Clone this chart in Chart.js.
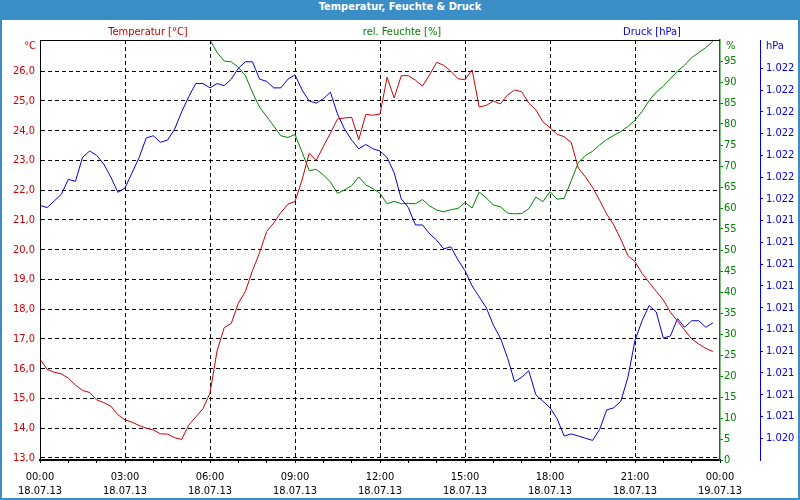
<!DOCTYPE html>
<html>
<head>
<meta charset="utf-8">
<script src="https://cdn.jsdelivr.net/npm/chart.js@4/dist/chart.umd.min.js"></script>
<style>
  body { margin: 0; background: #fff; }
  #wrap { position: relative; width: 800px; height: 500px; background: #fff; overflow: hidden; }
  #bar {
    position: absolute; left: 0; top: 0; width: 800px; height: 20px;
    background: #3c8ec6; color: #fff; text-align: center; line-height: 20px;
    font: bold 11px "DejaVu Sans Condensed", "Liberation Sans", sans-serif;
  }
  #frame {
    position: absolute; left: 0; top: 0; width: 800px; height: 500px; box-sizing: border-box;
    border: 2px solid #3c8ec6; border-top: none; pointer-events: none;
  }
  canvas { position: absolute; left: 0; top: 0; }
</style>
</head>
<body>
<div id="wrap">
  <canvas id="myChart" width="800" height="500"></canvas>
  <div id="bar">Temperatur, Feuchte &amp; Druck</div>
  <div id="frame"></div>
</div>
<script>
// messzeitpunkte 18.07.13
const times = [
  "00:00","00:15","00:30","00:45","01:00","01:15","01:30","01:45",
  "02:00","02:15","02:30","02:45","03:00","03:15","03:30","03:45",
  "04:00","04:15","04:30","04:45","05:00","05:15","05:30","05:45",
  "06:00","06:15","06:30","06:45","07:00","07:15","07:30","07:45",
  "08:00","08:15","08:30","08:45","09:00","09:15","09:30","09:45",
  "10:00","10:15","10:30","10:45","11:00","11:15","11:30","11:45",
  "12:00","12:15","12:30","12:45","13:00","13:15","13:30","13:45",
  "14:00","14:15","14:30","14:45","15:00","15:15","15:30","15:45",
  "16:00","16:15","16:30","16:45","17:00","17:15","17:30","17:45",
  "18:00","18:15","18:30","18:45","19:00","19:15","19:30","19:45",
  "20:00","20:15","20:30","20:45","21:00","21:15","21:30","21:45",
  "22:00","22:15","22:30","22:45","23:00","23:15","23:30","23:45"
];

const temperatur = [
  16.32, 15.98, 15.88, 15.83, 15.68, 15.45, 15.27, 15.20,
  14.95, 14.86, 14.74, 14.45, 14.28, 14.20, 14.09, 14.00,
  13.94, 13.81, 13.80, 13.68, 13.62, 14.10, 14.38, 14.65,
  15.18, 16.60, 17.38, 17.52, 18.20, 18.60, 19.30, 19.90,
  20.61, 20.90, 21.25, 21.53, 21.62, 22.35, 23.24, 23.00,
  23.47, 23.92, 24.39, 24.43, 24.45, 23.70, 24.55, 24.52,
  24.56, 25.80, 25.10, 25.85, 25.85, 25.70, 25.50, 25.88,
  26.30, 26.20, 26.00, 25.75, 25.71, 26.05, 24.80, 24.85,
  25.00, 24.90, 25.20, 25.37, 25.31, 24.93, 24.70, 24.30,
  24.10, 23.88, 23.80, 23.60, 22.74, 22.45, 22.10, 21.66,
  21.20, 20.83, 20.35, 19.80, 19.60, 19.20, 18.90, 18.60,
  18.31, 17.90, 17.60, 17.30, 17.00, 16.83, 16.68, 16.58
];

const feuchte = [
  100, 100, 100, 100, 100, 100, 100, 100,
  100, 100, 100, 100, 100, 100, 100, 100,
  100, 100, 100, 100, 100, 100, 100, 100,
  100, 97.0, 95.0, 94.8, 93.5, 91.5, 87.5, 84.0,
  81.8, 79.5, 77.2, 76.8, 77.5, 73.3, 68.9, 69.2,
  67.9, 66.2, 63.5, 64.3, 65.3, 67.4, 65.5, 64.6,
  63.5, 61.0, 61.6, 61.0, 61.1, 61.0, 62.0, 60.5,
  59.5, 59.1, 59.6, 59.9, 61.3, 60.0, 63.8, 62.4,
  60.7, 60.3, 58.8, 58.6, 58.7, 59.8, 62.6, 61.5,
  63.9, 62.1, 62.3, 66.5, 70.8, 72.5, 73.5, 75.0,
  76.3, 77.3, 78.2, 79.4, 80.9, 83.0, 85.6, 87.6,
  89.0, 90.8, 92.6, 94.0, 95.8, 97.0, 98.2, 99.7
];

const druck = [
  1021.47, 1021.46, 1021.49, 1021.52, 1021.59, 1021.58, 1021.69, 1021.72,
  1021.70, 1021.66, 1021.60, 1021.53, 1021.55, 1021.62, 1021.69, 1021.78,
  1021.79, 1021.76, 1021.77, 1021.82, 1021.90, 1021.97, 1022.03, 1022.03,
  1022.01, 1022.03, 1022.02, 1022.05, 1022.10, 1022.13, 1022.13, 1022.05,
  1022.04, 1022.01, 1022.01, 1022.05, 1022.07, 1022.00, 1021.95, 1021.94,
  1021.96, 1021.99, 1021.89, 1021.82, 1021.77, 1021.73, 1021.75, 1021.73,
  1021.72, 1021.69, 1021.62, 1021.50, 1021.46, 1021.38, 1021.38, 1021.34,
  1021.31, 1021.27, 1021.28, 1021.22, 1021.17, 1021.10, 1021.05, 1021.00,
  1020.92, 1020.86, 1020.77, 1020.66, 1020.68, 1020.71, 1020.60, 1020.57,
  1020.54, 1020.49, 1020.41, 1020.42, 1020.41, 1020.40, 1020.39, 1020.44,
  1020.53, 1020.54, 1020.57, 1020.68, 1020.85, 1020.94, 1021.01, 1020.98,
  1020.86, 1020.87, 1020.95, 1020.91, 1020.94, 1020.94, 1020.91, 1020.93
];

// achsenbeschriftung
const xTickLabels = [
  ["00:00", "18.07.13"], ["03:00", "18.07.13"], ["06:00", "18.07.13"],
  ["09:00", "18.07.13"], ["12:00", "18.07.13"], ["15:00", "18.07.13"],
  ["18:00", "18.07.13"], ["21:00", "18.07.13"], ["00:00", "19.07.13"]
];
const tempTicks = [13, 14, 15, 16, 17, 18, 19, 20, 21, 22, 23, 24, 25, 26];
const feuchteTicks = [0, 5, 10, 15, 20, 25, 30, 35, 40, 45, 50, 55, 60, 65, 70, 75, 80, 85, 90, 95];
const druckTicks = [1020.4, 1020.5, 1020.6, 1020.7, 1020.8, 1020.9, 1021.0, 1021.1, 1021.2,
  1021.3, 1021.4, 1021.5, 1021.6, 1021.7, 1021.8, 1021.9, 1022.0, 1022.1];

const RED = "#cc0000";
const GREEN = "#008000";
const BLUE = "#0000dd";
const FONT_FAMILY = '"DejaVu Sans Condensed", "Liberation Sans", sans-serif';

const toHours = (s) => {
  const [h, m] = s.split(":").map(Number);
  return h + m / 60;
};
const points = (vals) => times.map((t, i) => ({ x: toHours(t), y: vals[i] }));
const setTicks = (list) => (scale) => {
  scale.ticks = list.map((v) => ({ value: v }));
};

const rahmen = {
  id: "rahmen",
  afterDraw(chart) {
    const { ctx, chartArea: a } = chart;
    ctx.save();
    ctx.strokeStyle = "#000";
    ctx.lineWidth = 1;
    ctx.beginPath();
    ctx.moveTo(a.left, a.top + 0.5);
    ctx.lineTo(a.right, a.top + 0.5);
    ctx.stroke();

    ctx.font = "11px " + FONT_FAMILY;
    ctx.textBaseline = "middle";
    ctx.textAlign = "center";
    ctx.fillStyle = RED;
    ctx.fillText("Temperatur [°C]", 148, 32);
    ctx.fillStyle = GREEN;
    ctx.fillText("rel. Feuchte [%]", 402, 32);
    ctx.fillStyle = BLUE;
    ctx.fillText("Druck [hPa]", 652, 32);

    ctx.textAlign = "right";
    ctx.fillStyle = RED;
    ctx.fillText("°C", a.left - 4, a.top + 6);
    ctx.textAlign = "left";
    ctx.fillStyle = GREEN;
    ctx.fillText("%", a.right + 6, a.top + 6);
    ctx.fillStyle = BLUE;
    ctx.fillText("hPa", a.right + 46, a.top + 6);
    ctx.restore();
  }
};

const ctx = document.getElementById("myChart").getContext("2d");
new Chart(ctx, {
  type: "line",
  data: {
    datasets: [
      {
        label: "Temperatur",
        data: points(temperatur),
        yAxisID: "yT",
        borderColor: RED,
        borderWidth: 1,
        pointRadius: 0,
        tension: 0,
        fill: false
      },
      {
        label: "rel. Feuchte",
        data: points(feuchte),
        yAxisID: "yH",
        borderColor: GREEN,
        borderWidth: 1,
        pointRadius: 0,
        tension: 0,
        fill: false,
        clip: 0
      },
      {
        label: "Druck",
        data: points(druck),
        yAxisID: "yP",
        borderColor: BLUE,
        borderWidth: 1,
        pointRadius: 0,
        tension: 0,
        fill: false
      }
    ]
  },
  options: {
    responsive: false,
    animation: false,
    layout: { padding: { top: 40, left: 0, right: 0, bottom: 0 } },
    plugins: {
      legend: { display: false },
      tooltip: { enabled: false }
    },
    scales: {
      x: {
        type: "linear",
        position: "bottom",
        min: 0,
        max: 24,
        afterBuildTicks: setTicks(Array.from({ length: 25 }, (_, h) => h)),
        afterFit: (s) => { s.height = 40; },
        ticks: {
          autoSkip: false,
          maxRotation: 0,
          padding: 7,
          color: "#000",
          font: { family: FONT_FAMILY, size: 11, lineHeight: 1.3 },
          callback: (v) => (v % 3 === 0 ? xTickLabels[v / 3] : "")
        },
        grid: {
          color: (c) => (c.tick && c.tick.value % 3 === 0 && c.tick.value > 0 && c.tick.value < 24 ? "#000" : "rgba(0,0,0,0)"),
          tickColor: "#000",
          tickLength: 3,
          lineWidth: 1
        },
        border: { display: true, color: "#000", width: 2, dash: [4, 3] }
      },
      yT: {
        type: "linear",
        position: "left",
        min: 12.93,
        max: 27.05,
        afterBuildTicks: setTicks(tempTicks),
        afterFit: (s) => { s.width = 40; },
        ticks: {
          padding: 5,
          color: RED,
          font: { family: FONT_FAMILY, size: 11 },
          callback: (v) => v.toFixed(1).replace(".", ",")
        },
        grid: { color: "#000", drawTicks: false, lineWidth: 1 },
        border: { display: true, color: "#000", width: 1, dash: [4, 3] }
      },
      yH: {
        type: "linear",
        position: "right",
        min: 0,
        max: 100,
        afterBuildTicks: setTicks(feuchteTicks),
        afterFit: (s) => { s.width = 40; },
        ticks: {
          padding: 1,
          color: GREEN,
          font: { family: FONT_FAMILY, size: 11 },
          callback: (v) => String(v)
        },
        grid: { drawOnChartArea: false, tickColor: GREEN, tickLength: 3 },
        border: { display: true, color: GREEN, width: 1.5 }
      },
      yP: {
        type: "linear",
        position: "right",
        min: 1020.3,
        max: 1022.23,
        afterBuildTicks: setTicks(druckTicks),
        afterFit: (s) => { s.width = 40; },
        ticks: {
          padding: 3,
          color: BLUE,
          font: { family: FONT_FAMILY, size: 11 },
          callback: (v) => {
            const s = String(Math.round(v));
            return s.slice(0, 1) + "." + s.slice(1);
          }
        },
        grid: { drawOnChartArea: false, tickColor: BLUE, tickLength: 3 },
        border: { display: true, color: BLUE, width: 1 }
      }
    }
  },
  plugins: [rahmen]
});
</script>
</body>
</html>
